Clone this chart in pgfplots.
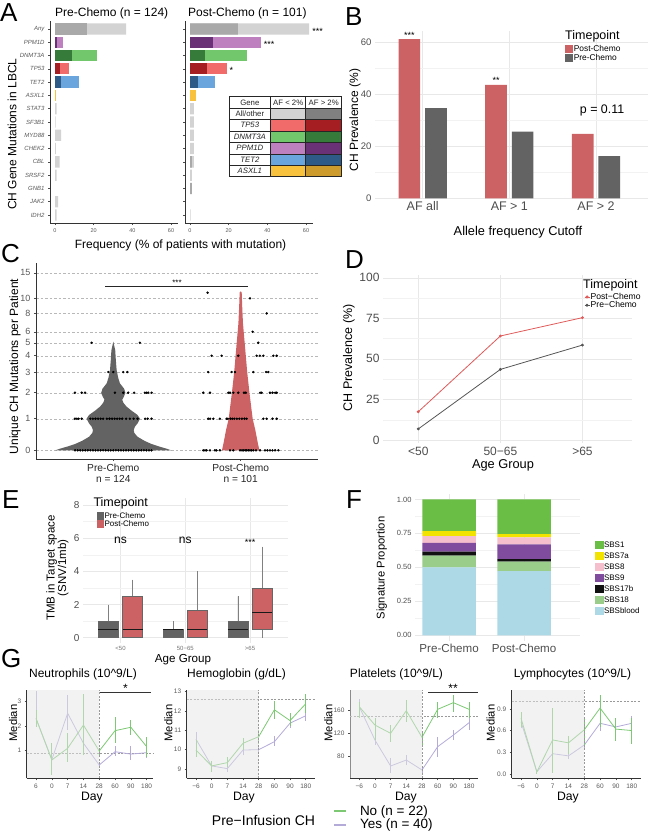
\documentclass[border=0pt]{standalone}
\usepackage{fontspec}
\setmainfont{Liberation Sans}
\usepackage{pgfplots}
\pgfplotsset{compat=1.18}
\usepgfplotslibrary{statistics}
\newcommand\fs[1]{\fontsize{#1pt}{#1pt}\selectfont}
\definecolor{lgray}{HTML}{D3D3D3}
\definecolor{dgray}{HTML}{A9A9A9}
\definecolor{tgray}{HTML}{808080}
\definecolor{tpL}{HTML}{F26B6B}\definecolor{tpD}{HTML}{A51E22}
\definecolor{dnL}{HTML}{72C66B}\definecolor{dnD}{HTML}{367B39}
\definecolor{ppL}{HTML}{BF80BF}\definecolor{ppD}{HTML}{6B3177}
\definecolor{teL}{HTML}{6AA6DD}\definecolor{teD}{HTML}{2E5A87}
\definecolor{asL}{HTML}{F8C23E}\definecolor{asD}{HTML}{CC9B2B}
\definecolor{postB}{HTML}{CC6264}
\definecolor{preB}{HTML}{636363}
\definecolor{postD}{HTML}{E05A5A}
\definecolor{preD}{HTML}{555555}
\definecolor{sbsA}{HTML}{6BBE45}
\definecolor{sbsB}{HTML}{F3E300}
\definecolor{sbsC}{HTML}{F6BFCD}
\definecolor{sbsD}{HTML}{7F4C9E}
\definecolor{sbsE}{HTML}{111111}
\definecolor{sbsF}{HTML}{9ACD8A}
\definecolor{sbsG}{HTML}{ADD8E6}
\definecolor{gNo}{HTML}{7CC873}
\definecolor{gYes}{HTML}{B4ABD8}
\definecolor{tickc}{HTML}{4D4D4D}

\pgfplotsset{
  every axis/.append style={scale only axis, anchor=south west, clip mode=individual, /pgf/number format/assume math mode=true},
  classic/.style={axis lines=left, axis line style={-, draw=black!80, line width=0.7pt}, tick align=outside, major tick length=2pt, tick style={draw=black!70, line width=0.5pt}, tick label style={text=black!65}},
  minimal/.style={axis line style={draw=none}, major tick length=0pt, minor tick length=0pt, grid style={black!9, line width=0.5pt}, minor grid style={black!5, line width=0.35pt}, tick label style={text=tickc}},
  abar/.style={xbar, bar width=0.85, bar shift=0pt, draw=none, forget plot},
  gstyle/.style={classic, height=88.3pt, xtick={1,...,8}, tick label style={font=\fs{6.5}}, major tick length=2pt},
  gline/.style={#1, line width=0.8pt, forget plot, error bars/.cd, y dir=both, y explicit, error mark=none, error bar style={line width=0.8pt, #1}},
  sqlegend/.style={legend image code/.code={\fill[##1] (0pt,-4pt) rectangle (8pt,4pt);}},
  ebox/.style={boxplot prepared={draw direction=y, box extend=0.31, whisker extend=0, #1}, draw=black!60, line width=0.5pt, forget plot},
}

\begin{document}
\begin{tikzpicture}
\useasboundingbox (0pt,0pt) rectangle (650pt,-839pt);

% ---------- panel letters
\node[anchor=base west, inner sep=0pt, font=\fs{26}] at (0pt,-21.5pt) {A};
\node[anchor=base west, inner sep=0pt, font=\fs{26}] at (345pt,-25pt) {B};
\node[anchor=base west, inner sep=0pt, font=\fs{26}] at (1pt,-262pt) {C};
\node[anchor=base west, inner sep=0pt, font=\fs{26}] at (345pt,-268pt) {D};
\node[anchor=base west, inner sep=0pt, font=\fs{26}] at (2pt,-508pt) {E};
\node[anchor=base west, inner sep=0pt, font=\fs{26}] at (346pt,-508pt) {F};
\node[anchor=base west, inner sep=0pt, font=\fs{26}] at (1pt,-667pt) {G};

% ================= A left
\begin{axis}[classic, at={(50pt,-223pt)}, width=128pt, height=202pt,
  xmin=-2.6, xmax=63.6, ymin=-0.6, ymax=14.6,
  xtick={0,20,40,60}, ytick={0,...,14},
  yticklabels={IDH2,JAK2,GNB1,SRSF2,CBL,CHEK2,MYD88,SF3B1,STAT3,ASXL1,TET2,TP53,DNMT3A,PPM1D,Any},
  y tick label style={font=\fs{6}\itshape}, x tick label style={font=\fs{5.5}}]
\addplot[abar, fill=lgray] coordinates {(36.8,14) (0.8,8) (0.3,7) (3.2,6) (0.5,5) (2.4,4) (0.8,3) (1.6,1) (0.8,0)};
\addplot[abar, fill=dgray] coordinates {(16.4,14)};
\addplot[abar, fill=ppL] coordinates {(4.0,13)};
\addplot[abar, fill=ppD] coordinates {(1.2,13)};
\addplot[abar, fill=dnL] coordinates {(21.9,12)};
\addplot[abar, fill=dnD] coordinates {(9.0,12)};
\addplot[abar, fill=tpL] coordinates {(7.3,11)};
\addplot[abar, fill=tpD] coordinates {(2.6,11)};
\addplot[abar, fill=teL] coordinates {(12.2,10)};
\addplot[abar, fill=teD] coordinates {(3.3,10)};
\addplot[abar, fill=asL] coordinates {(0.3,9)};
\end{axis}

% ================= A right
\begin{axis}[classic, at={(185pt,-223pt)}, width=128pt, height=202pt,
  xmin=-2.6, xmax=63.6, ymin=-0.6, ymax=14.6,
  xtick={0,20,40,60}, ytick={0,...,14}, yticklabels={},
  x tick label style={font=\fs{5.5}}]
\addplot[abar, fill=lgray] coordinates {(61.6,14) (2.0,8) (2.0,7) (2.0,6) (2.0,5) (2.0,4) (1.0,3) (0.3,0)};
\addplot[abar, fill=dgray] coordinates {(24.7,14) (1.0,4) (1.0,2)};
\addplot[abar, fill=ppL] coordinates {(36.7,13)};
\addplot[abar, fill=ppD] coordinates {(11.7,13)};
\addplot[abar, fill=dnL] coordinates {(29.7,12)};
\addplot[abar, fill=dnD] coordinates {(7.9,12)};
\addplot[abar, fill=tpL] coordinates {(19.0,11)};
\addplot[abar, fill=tpD] coordinates {(9.0,11)};
\addplot[abar, fill=teL] coordinates {(12.9,10)};
\addplot[abar, fill=teD] coordinates {(4.0,10)};
\addplot[abar, fill=asL] coordinates {(3.1,9)};
\node[anchor=west, font=\fs{9}, inner sep=1pt] at (axis cs:62.6,13.85) {***};
\node[anchor=west, font=\fs{9}, inner sep=1pt] at (axis cs:37.6,12.85) {***};
\node[anchor=west, font=\fs{9}, inner sep=1pt] at (axis cs:19.8,10.85) {*};
\end{axis}

\node[anchor=west, font=\fs{12}, inner sep=0pt] at (55pt,-13pt) {Pre-Chemo (n = 124)};
\node[anchor=west, font=\fs{12}, inner sep=0pt] at (188pt,-13pt) {Post-Chemo (n = 101)};
\node[rotate=90, font=\fs{12}] at (12pt,-134pt) {CH Gene Mutations in LBCL};
\node[font=\fs{12}] at (180.5pt,-245pt) {Frequency (\% of patients with mutation)};

% table legend for A
\fill[white] (229pt,-96.7pt) rectangle (341.7pt,-176.7pt);
\fill[lgray] (270.7pt,-108.1pt) rectangle (305.7pt,-119.6pt);
\fill[tgray] (305.7pt,-108.1pt) rectangle (341.7pt,-119.6pt);
\fill[tpL] (270.7pt,-119.6pt) rectangle (305.7pt,-131.0pt);
\fill[tpD] (305.7pt,-119.6pt) rectangle (341.7pt,-131.0pt);
\fill[dnL] (270.7pt,-131.0pt) rectangle (305.7pt,-142.4pt);
\fill[dnD] (305.7pt,-131.0pt) rectangle (341.7pt,-142.4pt);
\fill[ppL] (270.7pt,-142.4pt) rectangle (305.7pt,-153.9pt);
\fill[ppD] (305.7pt,-142.4pt) rectangle (341.7pt,-153.9pt);
\fill[teL] (270.7pt,-153.9pt) rectangle (305.7pt,-165.3pt);
\fill[teD] (305.7pt,-153.9pt) rectangle (341.7pt,-165.3pt);
\fill[asL] (270.7pt,-165.3pt) rectangle (305.7pt,-176.7pt);
\fill[asD] (305.7pt,-165.3pt) rectangle (341.7pt,-176.7pt);
\begin{scope}[line width=0.6pt, draw=black!85]
\draw (229pt,-96.7pt) rectangle (341.7pt,-176.7pt);
\draw (229pt,-108.1pt) -- (341.7pt,-108.1pt);
\draw (229pt,-119.6pt) -- (341.7pt,-119.6pt);
\draw (229pt,-131.0pt) -- (341.7pt,-131.0pt);
\draw (229pt,-142.4pt) -- (341.7pt,-142.4pt);
\draw (229pt,-153.9pt) -- (341.7pt,-153.9pt);
\draw (229pt,-165.3pt) -- (341.7pt,-165.3pt);
\draw (270.7pt,-96.7pt) -- (270.7pt,-176.7pt);
\draw (305.7pt,-96.7pt) -- (305.7pt,-176.7pt);
\end{scope}
\begin{scope}[font=\fs{7.8}, text=black!85]
\node at (249.85pt,-102.4pt) {Gene};
\node at (288.2pt,-102.4pt) {AF < 2\%};
\node at (323.7pt,-102.4pt) {AF > 2\%};
\node at (249.85pt,-113.85pt) {All/other};
\node at (249.85pt,-125.3pt) {\itshape TP53};
\node at (249.85pt,-136.7pt) {\itshape DNMT3A};
\node at (249.85pt,-148.15pt) {\itshape PPM1D};
\node at (249.85pt,-159.6pt) {\itshape TET2};
\node at (249.85pt,-171.0pt) {\itshape ASXL1};
\end{scope}

% ================= B
\begin{axis}[minimal, sqlegend, at={(375pt,-198.3pt)}, width=273pt, height=167.4pt,
  xmin=0.45, xmax=3.6, ymin=0, ymax=64.5,
  xtick={1,2,3}, xticklabels={AF all, AF > 1, AF > 2},
  ytick={0,20,40,60}, minor ytick={10,30,50},
  ymajorgrids, yminorgrids, xmajorgrids,
  x tick label style={font=\fs{12.5}}, y tick label style={font=\fs{9.5}},
  legend style={at={(0.696,0.919)}, anchor=north west, draw=none, fill=none, font=\fs{8.4}, row sep=0.4pt, inner sep=0pt, nodes={inner sep=0.6pt}},
  legend cell align=left]
\addplot[ybar, bar width=0.25, bar shift=0pt, fill=postB, draw=none, forget plot] coordinates {(0.847,61.3) (1.847,43.7) (2.847,24.8)};
\addplot[ybar, bar width=0.25, bar shift=0pt, fill=preB, draw=none, forget plot] coordinates {(1.153,34.7) (2.153,25.7) (3.153,16.3)};
\addlegendimage{fill=postB, draw=none}\addlegendentry{Post-Chemo}
\addlegendimage{fill=preB, draw=none}\addlegendentry{Pre-Chemo}
\node[anchor=south, font=\fs{9}, inner sep=1pt] at (axis cs:0.847,61.3) {***};
\node[anchor=south, font=\fs{9}, inner sep=1pt] at (axis cs:1.847,43.7) {**};
\node[font=\fs{12.4}] at (axis cs:3.07,34) {p = 0.11};
\end{axis}
\node[anchor=west, font=\fs{12.5}, inner sep=0pt] at (565pt,-36.7pt) {Timepoint};
\node[rotate=90, font=\fs{12}] at (355pt,-120pt) {CH Prevalence (\%)};
\node[font=\fs{12.8}] at (518pt,-232pt) {Allele frequency Cutoff};

% ================= C
\begin{axis}[classic, at={(36pt,-459pt)}, width=282pt, height=196pt,
  xmin=0.393, xmax=2.607, ymin=-0.275, ymax=5.93,
  xtick={1,2}, xticklabels={{Pre-Chemo\\n = 124},{Post-Chemo\\n = 101}},
  x tick label style={font=\fs{10.2}, align=center, text=black!85},
  ytick={0,1,1.823,2.478,2.994,3.405,3.753,4.335,4.81,5.62},
  yticklabels={0,1,2,3,4,5,6,8,10,15},
  y tick label style={font=\fs{9}},
  ymajorgrids, grid style={black!28, line width=0.45pt, dash pattern=on 2.5pt off 2pt}]
\addplot[fill=preB, draw=none] coordinates {(1.455,0) (1.42,0.05) (1.36,0.12) (1.30,0.2) (1.245,0.3) (1.19,0.43) (1.165,0.55) (1.16,0.64) (1.17,0.75) (1.19,0.85) (1.21,1.0) (1.19,1.12) (1.145,1.25) (1.105,1.38) (1.08,1.5) (1.07,1.6) (1.085,1.72) (1.095,1.82) (1.085,1.95) (1.052,2.12) (1.038,2.3) (1.026,2.54) (1.02,2.85) (1.015,3.17) (1.0,3.44) (0.985,3.17) (0.98,2.85) (0.974,2.54) (0.962,2.3) (0.948,2.12) (0.915,1.95) (0.905,1.82) (0.915,1.72) (0.93,1.6) (0.92,1.5) (0.895,1.38) (0.855,1.25) (0.81,1.12) (0.79,1.0) (0.81,0.85) (0.83,0.75) (0.84,0.64) (0.835,0.55) (0.81,0.43) (0.755,0.3) (0.70,0.2) (0.64,0.12) (0.58,0.05) (0.545,0)} -- cycle;
\addplot[fill=postB, draw=none] coordinates {(2.147,0) (2.135,0.22) (2.115,0.64) (2.094,1.0) (2.069,1.82) (2.051,2.48) (2.04,3.0) (2.027,3.6) (2.018,4.02) (2.012,4.55) (2.008,5.0) (2.0,5.03) (1.992,5.0) (1.988,4.55) (1.982,4.02) (1.973,3.6) (1.96,3.0) (1.949,2.48) (1.931,1.82) (1.906,1.0) (1.885,0.64) (1.865,0.22) (1.853,0)} -- cycle;
\addplot[only marks, mark=*, mark size=1pt, black] coordinates {
(0.70,0) (0.72,0) (0.74,0) (0.76,0) (0.78,0) (0.80,0) (0.82,0) (0.84,0) (0.86,0) (0.88,0) (0.90,0) (0.92,0) (0.94,0) (0.96,0) (0.98,0) (1.00,0) (1.02,0) (1.04,0) (1.06,0) (1.08,0) (1.10,0) (1.12,0) (1.14,0) (1.16,0) (1.18,0) (1.20,0) (1.22,0) (1.24,0) (1.26,0) (1.28,0) (1.30,0)
(0.699,1) (0.714,1) (0.728,1) (0.752,1) (0.82,1) (0.84,1) (0.86,1) (0.88,1) (0.90,1) (0.92,1) (0.95,1) (0.97,1) (0.99,1) (1.01,1) (1.03,1) (1.05,1) (1.07,1) (1.10,1) (1.13,1) (1.16,1) (1.19,1) (1.25,1) (1.27,1) (1.30,1)
(0.699,1.823) (0.752,1.823) (0.778,1.823) (1.013,1.823) (1.078,1.823) (1.117,1.823) (1.164,1.823) (1.248,1.823) (1.262,1.823) (1.274,1.823) (1.301,1.823)
(0.961,2.478) (1.0,2.478) (1.078,2.478) (1.11,2.478)
(0.830,3.405) (1.209,3.405)
(1.706,0) (1.72,0) (1.732,0) (1.759,0) (1.798,0) (1.81,0) (1.837,0) (1.916,0) (1.942,0) (1.995,0) (2.01,0) (2.02,0) (2.035,0) (2.047,0) (2.06,0) (2.073,0) (2.085,0) (2.099,0) (2.12,0) (2.152,0) (2.191,0) (2.21,0) (2.23,0) (2.25,0) (2.27,0) (2.296,0)
(1.745,1) (1.76,1) (1.785,1) (1.837,1) (1.89,1) (1.90,1) (1.92,1) (1.935,1) (1.95,1) (1.97,1) (1.99,1) (2.01,1) (2.03,1) (2.047,1) (2.178,1) (2.204,1) (2.25,1) (2.283,1)
(1.706,1.823) (1.759,1.823) (1.903,1.823) (1.916,1.823) (1.942,1.823) (1.981,1.823) (2.026,1.823) (2.04,1.823) (2.152,1.823) (2.165,1.823) (2.23,1.823) (2.25,1.823) (2.27,1.823) (2.283,1.823)
(1.745,2.478) (1.929,2.478) (1.955,2.478) (2.099,2.478) (2.20,2.478) (2.217,2.478)
(1.772,2.994) (1.85,2.994) (1.981,2.994) (2.125,2.994) (2.15,2.994) (2.178,2.994) (2.256,2.994) (2.283,2.994)
(2.138,3.405) (2.094,3.753) (2.204,4.335) (2.073,4.81) (1.740,4.99)};
\draw[line width=0.6pt, black!85] (axis cs:0.935,5.18) -- (axis cs:2.06,5.18);
\node[anchor=south, font=\fs{8}, inner sep=1pt] at (axis cs:1.5,5.18) {***};
\end{axis}
\node[rotate=90, font=\fs{12}] at (15pt,-366.5pt) {Unique CH Mutations per Patient};

% ================= D
\begin{axis}[minimal, at={(383pt,-443.2pt)}, width=248.7pt, height=168.7pt,
  xmin=0.57, xmax=3.6, ymin=-2, ymax=102,
  xtick={1,2,3}, xticklabels={<50,50−65,>65},
  ytick={0,25,50,75,100}, minor ytick={12.5,37.5,62.5,87.5},
  ymajorgrids, yminorgrids, xmajorgrids,
  tick label style={font=\fs{12}},
  legend image code/.code={\draw[#1, line width=0.7pt] (0pt,0pt) -- (5pt,0pt); \fill[#1] (2.5pt,0pt) circle (1.1pt);},
  legend style={at={(0.808,0.896)}, anchor=north west, draw=none, fill=none, font=\fs{8.6}, row sep=-1pt, inner sep=0pt, nodes={inner sep=0.8pt}},
  legend cell align=left]
\addplot[postD, line width=0.8pt, mark=*, mark size=1pt] coordinates {(1,17.4) (2,64.1) (3,75.4)};
\addlegendentry{Post−Chemo}
\addplot[preD, line width=0.8pt, mark=*, mark size=1pt] coordinates {(1,6.8) (2,43.5) (3,58.5)};
\addlegendentry{Pre−Chemo}
\end{axis}
\node[anchor=west, font=\fs{12.5}, inner sep=0pt] at (583pt,-285pt) {Timepoint};
\node[rotate=90, font=\fs{12.5}] at (349pt,-358pt) {CH Prevalence (\%)};
\node[font=\fs{12.8}] at (503pt,-465pt) {Age Group};

% ================= E
\begin{axis}[minimal, at={(83pt,-642.7pt)}, width=205pt, height=144.3pt,
  xmin=0.421, xmax=3.586, ymin=-0.3, ymax=8.4,
  xtick={1,2,3}, xticklabels={<50,50−65,>65},
  ytick={0,2,4,6,8}, minor ytick={1,3,5,7},
  ymajorgrids, yminorgrids, xmajorgrids,
  x tick label style={font=\fs{6}, text=black!55}, y tick label style={font=\fs{10}},
  boxplot/every median/.style={draw=black!90, line width=0.9pt},
  boxplot/every whisker/.style={draw=black!50, line width=0.5pt},
  legend image code/.code={\fill[#1] (0pt,-3.7pt) rectangle (7.3pt,3.7pt);},
  legend style={at={(0.067,0.906)}, anchor=north west, draw=none, fill=none, font=\fs{8}, row sep=0pt, inner sep=0pt, nodes={inner sep=0.3pt}},
  legend cell align=left]
\addplot[ebox={draw position=0.813, lower whisker=0, lower quartile=0, median=0.5, upper quartile=1, upper whisker=2}, fill=preB] coordinates {};
\addplot[ebox={draw position=1.187, lower whisker=0, lower quartile=0, median=0.5, upper quartile=2.5, upper whisker=3.5}, fill=postB] coordinates {};
\addplot[ebox={draw position=1.813, lower whisker=0, lower quartile=0, median=0.5, upper quartile=0.5, upper whisker=1.0}, fill=preB] coordinates {};
\addplot[ebox={draw position=2.187, lower whisker=0, lower quartile=0, median=0.5, upper quartile=1.65, upper whisker=4.0}, fill=postB] coordinates {};
\addplot[ebox={draw position=2.813, lower whisker=0, lower quartile=0, median=0.5, upper quartile=1.0, upper whisker=2.5}, fill=preB] coordinates {};
\addplot[ebox={draw position=3.187, lower whisker=0, lower quartile=0.5, median=1.5, upper quartile=3.0, upper whisker=5.5}, fill=postB] coordinates {};
\addlegendimage{fill=preB, draw=none}\addlegendentry{Pre-Chemo}
\addlegendimage{fill=postB, draw=none}\addlegendentry{Post-Chemo}
\node[font=\fs{12}] at (axis cs:1,5.9) {ns};
\node[font=\fs{12}] at (axis cs:2,5.9) {ns};
\node[font=\fs{9}] at (axis cs:3,5.75) {***};
\end{axis}
\node[anchor=west, font=\fs{12.5}, inner sep=0pt] at (93.3pt,-503.3pt) {Timepoint};
\node[rotate=90, font=\fs{11.5}, align=center] at (57.5pt,-568pt) {\fontsize{11.5pt}{14.5pt}\selectfont TMB in Target space\\(SNV/1mb)};
\node[font=\fs{11.6}] at (183pt,-660pt) {Age Group};

% ================= F
\begin{axis}[minimal, ybar stacked, bar width=0.716, at={(415pt,-640.7pt)}, width=165pt, height=146.7pt,
  xmin=0.545, xmax=2.745, ymin=-0.04, ymax=1.04,
  xtick={1,2}, xticklabels={Pre-Chemo,Post-Chemo},
  ytick={0,0.25,0.5,0.75,1}, yticklabels={0.00,0.25,0.50,0.75,1.00},
  minor ytick={0.125,0.375,0.625,0.875},
  ymajorgrids, yminorgrids, xmajorgrids,
  x tick label style={font=\fs{11.6}}, y tick label style={font=\fs{7.5}},
  legend image code/.code={\fill[#1] (0pt,-4.3pt) rectangle (8.3pt,4.3pt);},
  legend style={at={(1.091,0.683)}, anchor=north west, draw=none, fill=none, font=\fs{8}, row sep=2.4pt, inner sep=0pt, nodes={inner sep=0.5pt}},
  legend cell align=left]
\addplot[fill=sbsG, draw=none, forget plot] coordinates {(1,0.500) (2,0.473)};
\addplot[fill=sbsF, draw=none, forget plot] coordinates {(1,0.086) (2,0.069)};
\addplot[fill=sbsE, draw=none, forget plot] coordinates {(1,0.029) (2,0.019)};
\addplot[fill=sbsD, draw=none, forget plot] coordinates {(1,0.066) (2,0.108)};
\addplot[fill=sbsC, draw=none, forget plot] coordinates {(1,0.049) (2,0.052)};
\addplot[fill=sbsB, draw=none, forget plot] coordinates {(1,0.037) (2,0.024)};
\addplot[fill=sbsA, draw=none, forget plot] coordinates {(1,0.233) (2,0.255)};
\addlegendimage{fill=sbsA, draw=none}\addlegendentry{SBS1}
\addlegendimage{fill=sbsB, draw=none}\addlegendentry{SBS7a}
\addlegendimage{fill=sbsC, draw=none}\addlegendentry{SBS8}
\addlegendimage{fill=sbsD, draw=none}\addlegendentry{SBS9}
\addlegendimage{fill=sbsE, draw=none}\addlegendentry{SBS17b}
\addlegendimage{fill=sbsF, draw=none}\addlegendentry{SBS18}
\addlegendimage{fill=sbsG, draw=none}\addlegendentry{SBSblood}
\end{axis}
\node[rotate=90, font=\fs{11.2}] at (381.7pt,-568pt) {Signature Proportion};

% ================= G1 Neutrophils
\begin{axis}[gstyle, at={(26.7pt,-778.3pt)}, width=126.6pt,
  xmin=0.41, xmax=8.42, ymin=-0.17, ymax=3.48,
  xticklabels={6,0,7,14,28,60,90,180}, ytick={1,2,3}]
\draw[black!40, line width=0.4pt, dash pattern=on 2pt off 1.5pt] (axis cs:0.41,0.87) -- (axis cs:8.42,0.87);
\addplot[gline=gYes] coordinates {(1,2.30) += (0,1.15) -= (0,0.2) (2,0.60) += (0,0.4) -= (0,0.3) (3,2.52) += (0,0.75) -= (0,0.69) (4,1.28) += (0,0.3) -= (0,0.3) (5,0.38) += (0,0.1) -= (0,0.1) (6,0.93) += (0,0.22) -= (0,0.18) (7,0.83) += (0,0.32) -= (0,0.23) (8,0.89) += (0,0.15) -= (0,0.2)};
\addplot[gline=gNo] coordinates {(1,2.31) += (0,0.35) -= (0,0.35) (2,0.59) += (0,0.69) -= (0,0.62) (3,1.07) += (0,0.62) -= (0,0.55) (4,2.03) += (0,1.27) -= (0,1.24) (5,0.96) += (0,0.14) -= (0,0.16) (6,1.80) += (0,0.55) -= (0,0.52) (7,1.94) += (0,0.30) -= (0,0.32) (8,1.14) += (0,0.41) -= (0,0.42)};
\fill[black!10, opacity=0.5] (axis cs:0.41,-0.17) rectangle (axis cs:5,3.48);
\draw[black!40, line width=0.4pt, dash pattern=on 2pt off 1.5pt] (axis cs:5,-0.17) -- (axis cs:5,3.48);
\end{axis}

% ================= G2 Hemoglobin
\begin{axis}[gstyle, at={(186.7pt,-778.3pt)}, width=128.3pt,
  xmin=0.41, xmax=8.59, ymin=8.52, ymax=13.08,
  xticklabels={−6,0,7,14,28,60,90,180}, ytick={9,10,11,12,13}]
\draw[black!40, line width=0.4pt, dash pattern=on 2pt off 1.5pt] (axis cs:0.41,12.6) -- (axis cs:8.59,12.6);
\addplot[gline=gYes] coordinates {(1,10.54) += (0,0.36) -= (0,0.34) (2,9.16) += (0,0.19) -= (0,0.21) (3,9.02) += (0,0.18) -= (0,0.17) (4,9.98) += (0,0.32) -= (0,0.28) (5,10.0) += (0,0.2) -= (0,0.2) (6,10.41) += (0,0.29) -= (0,0.21) (7,11.37) += (0,0.23) -= (0,0.27) (8,11.75) += (0,0.25) -= (0,0.25)};
\addplot[gline=gNo] coordinates {(1,9.98) += (0,0.52) -= (0,0.38) (2,9.16) += (0,0.24) -= (0,0.31) (3,9.33) += (0,0.27) -= (0,0.23) (4,10.33) += (0,0.27) -= (0,0.33) (5,10.67) += (0,0.33) -= (0,0.37) (6,12.06) += (0,0.44) -= (0,0.46) (7,11.5) += (0,0.4) -= (0,0.3) (8,12.37) += (0,0.48) -= (0,0.47)};
\fill[black!10, opacity=0.5] (axis cs:0.41,8.52) rectangle (axis cs:5,13.08);
\draw[black!40, line width=0.4pt, dash pattern=on 2pt off 1.5pt] (axis cs:5,8.52) -- (axis cs:5,13.08);
\end{axis}

% ================= G3 Platelets
\begin{axis}[gstyle, at={(350pt,-778.3pt)}, width=128.3pt,
  xmin=0.41, xmax=8.59, ymin=42.4, ymax=196,
  xticklabels={−6,0,7,14,28,60,90,180}, ytick={80,120,160},
  legend image code/.code={\draw[#1] (0pt,0pt) -- (12pt,0pt);},
  legend style={at={(-0.1325,-0.30)}, anchor=north west, draw=none, fill=none, font=\fs{13.5}, row sep=1pt, inner sep=0pt, nodes={inner sep=0.6pt}, /tikz/every even column/.append style={column sep=0pt}},
  legend cell align=left]
\draw[black!40, line width=0.4pt, dash pattern=on 2pt off 1.5pt] (axis cs:0.41,150) -- (axis cs:8.59,150);
\addplot[gline=gYes] coordinates {(1,167) += (0,13) -= (0,12) (2,109) += (0,9) -= (0,9) (3,63.8) += (0,13.2) -= (0,12.7) (4,74.2) += (0,8.7) -= (0,8.7) (5,56.9) += (0,5.8) -= (0,5.8) (6,97.4) += (0,17.4) -= (0,17.4) (7,117.6) += (0,8.7) -= (0,8.6) (8,139.1) += (0,10.4) -= (0,12.8)};
\addplot[gline=gNo] coordinates {(1,167) += (0,8) -= (0,20) (2,135) += (0,11.7) -= (0,26) (3,120.7) += (0,13.8) -= (0,15.1) (4,160) += (0,18) -= (0,19.6) (5,113.7) += (0,9.8) -= (0,16.2) (6,162.4) += (0,12.6) -= (0,15.4) (7,174) += (0,12.6) -= (0,16.4) (8,162.4) += (0,12.6) -= (0,15.4)};
\fill[black!10, opacity=0.5] (axis cs:0.41,42.4) rectangle (axis cs:5,196);
\draw[black!40, line width=0.4pt, dash pattern=on 2pt off 1.5pt] (axis cs:5,42.4) -- (axis cs:5,196);
\addlegendimage{gNo, line width=2.2pt}\addlegendentry{\hspace{12pt}No (n = 22)}
\addlegendimage{gYes, line width=2.2pt}\addlegendentry{\hspace{12pt}Yes (n = 40)}
\end{axis}

% ================= G4 Lymphocytes
\begin{axis}[gstyle, at={(511.7pt,-778.3pt)}, width=129pt,
  xmin=0.41, xmax=8.57, ymin=-0.06, ymax=1.16,
  xticklabels={−6,0,7,14,28,60,90,180}, ytick={0,0.3,0.6,0.9}, yticklabels={0.0,0.3,0.6,0.9}]
\draw[black!40, line width=0.4pt, dash pattern=on 2pt off 1.5pt] (axis cs:0.41,1.0) -- (axis cs:8.57,1.0);
\addplot[gline=gYes] coordinates {(1,0.72) += (0,0.13) -= (0,0.09) (2,0.03) += (0,0.03) -= (0,0.03) (3,0.28) += (0,0.12) -= (0,0.13) (4,0.25) += (0,0.05) -= (0,0.05) (5,0.40) += (0,0.05) -= (0,0.05) (6,0.70) += (0,0.1) -= (0,0.1) (7,0.65) += (0,0.1) -= (0,0.1) (8,0.70) += (0,0.1) -= (0,0.1)};
\addplot[gline=gNo] coordinates {(1,0.77) += (0,0.08) -= (0,0.12) (2,0.03) += (0,0.03) -= (0,0.03) (3,0.47) += (0,0.44) -= (0,0.46) (4,0.43) += (0,0.1) -= (0,0.15) (5,0.61) += (0,0.17) -= (0,0.22) (6,0.91) += (0,0.18) -= (0,0.26) (7,0.62) += (0,0.16) -= (0,0.17) (8,0.60) += (0,0.18) -= (0,0.19)};
\fill[black!10, opacity=0.5] (axis cs:0.41,-0.06) rectangle (axis cs:5,1.16);
\draw[black!40, line width=0.4pt, dash pattern=on 2pt off 1.5pt] (axis cs:5,-0.06) -- (axis cs:5,1.16);
\end{axis}

% G texts
\node[font=\fs{12}] at (83pt,-674pt) {Neutrophils (10\textasciicircum9/L)};
\node[font=\fs{12}] at (236.5pt,-674pt) {Hemoglobin (g/dL)};
\node[font=\fs{12}] at (396.5pt,-674pt) {Platelets (10\textasciicircum9/L)};
\node[font=\fs{12}] at (572.5pt,-674pt) {Lymphocytes (10\textasciicircum9/L)};
\foreach \xx/\dx in {13/92, 168.3/244, 328.3/406, 490.7/568} {
  \node[rotate=90, font=\fs{11.2}] at (\xx pt,-723pt) {Median};
  \node[font=\fs{12.2}] at (\dx pt,-798pt) {Day};
}
\draw[line width=0.8pt, black!80] (100pt,-692pt) -- (151pt,-692pt);
\node[font=\fs{12}, inner sep=0pt] at (125.5pt,-688pt) {*};
\draw[line width=0.8pt, black!80] (428pt,-692.7pt) -- (478pt,-692.7pt);
\node[font=\fs{12}, inner sep=0pt] at (453pt,-688pt) {**};
\node[font=\fs{14}] at (263.5pt,-820pt) {Pre−Infusion CH};
\end{tikzpicture}
\end{document}
